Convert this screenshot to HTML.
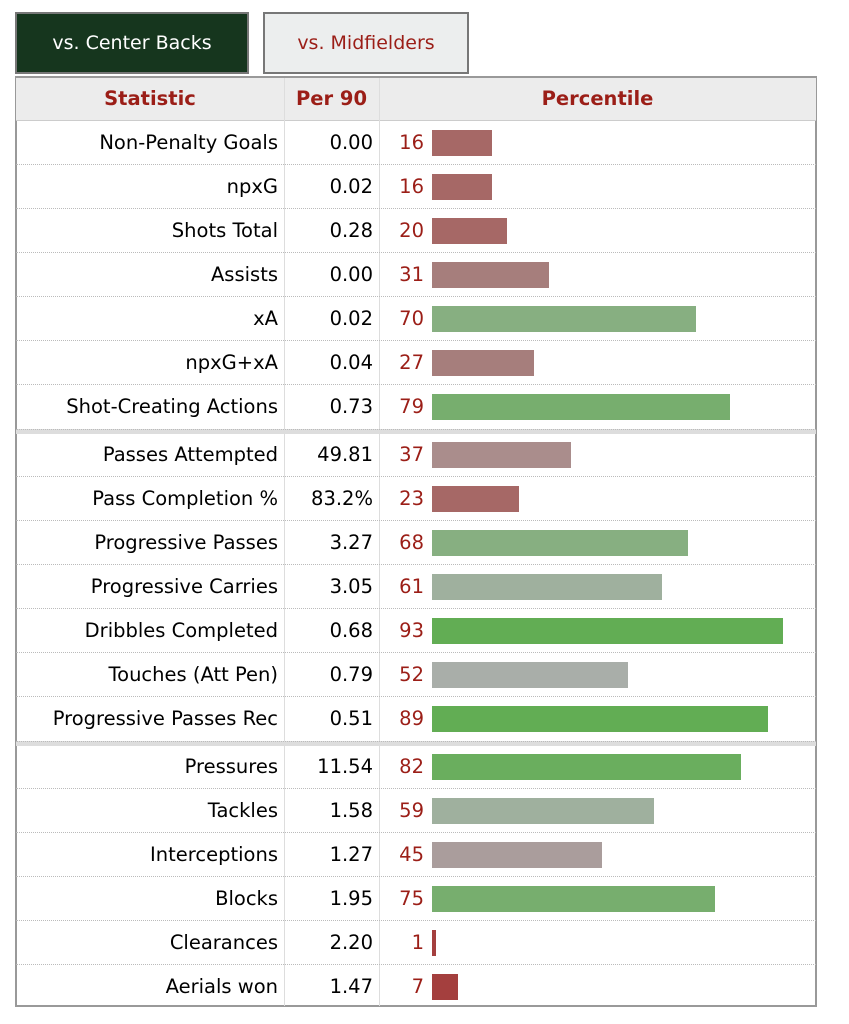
<!DOCTYPE html>
<html><head><meta charset="utf-8"><style>
body{margin:0;background:#fff;width:849px;height:1024px;position:relative;font-family:"DejaVu Sans",Verdana,sans-serif;overflow:hidden}
.tab{position:absolute;top:12px;height:62px;box-sizing:border-box;border:2px solid #777;font-size:19px;display:flex;align-items:center;justify-content:center}
.cell{position:absolute;box-sizing:border-box;font-size:19.5px;white-space:nowrap;line-height:44px}
.vline{position:absolute;width:1px;background:#ddd}
.hdot{position:absolute;left:16px;width:800px;border-top:1px dotted #bbb}
.bar{position:absolute;height:26px;box-sizing:border-box}
</style></head><body>
<div class="tab" style="left:15px;width:234px;background:#16361e;color:#fff">vs. Center Backs</div>
<div class="tab" style="left:263px;width:206px;background:#eceeee;color:#9b1e17">vs. Midfielders</div>
<div id="tbl" style="position:absolute;left:15px;top:76px;width:802px;height:931px;box-sizing:border-box;border:2px solid #999;border-top:none"></div>
<div style="position:absolute;left:16px;top:76px;width:800px;height:45px;background:#ececec;border-top:2px solid #999;border-bottom:1px solid #ccc;box-sizing:border-box"></div>
<div class="cell" style="left:16px;width:268px;top:77px;text-align:center;color:#9b1e17;font-weight:bold">Statistic</div>
<div class="cell" style="left:284px;width:95px;top:77px;text-align:center;color:#9b1e17;font-weight:bold">Per 90</div>
<div class="cell" style="left:379px;width:437px;top:77px;text-align:center;color:#9b1e17;font-weight:bold">Percentile</div>
<div class="vline" style="left:284px;top:78px;height:928px"></div>
<div class="vline" style="left:379px;top:78px;height:928px"></div>
<script>
const stats=["Non-Penalty Goals","npxG","Shots Total","Assists","xA","npxG+xA","Shot-Creating Actions","Passes Attempted","Pass Completion %","Progressive Passes","Progressive Carries","Dribbles Completed","Touches (Att Pen)","Progressive Passes Rec","Pressures","Tackles","Interceptions","Blocks","Clearances","Aerials won"];
const per90=["0.00","0.02","0.28","0.00","0.02","0.04","0.73","49.81","83.2%","3.27","3.05","0.68","0.79","0.51","11.54","1.58","1.27","1.95","2.20","1.47"];
const percentiles=[16,16,20,31,70,27,79,37,23,68,61,93,52,89,82,59,45,75,1,7];
function color(p){
 if(p<10)return"#a43f3e";if(p<25)return"#a66866";if(p<35)return"#a67e7c";if(p<42)return"#aa8d8c";if(p<50)return"#aa9d9c";
 if(p<56)return"#a9aea9";if(p<65)return"#9fb09e";if(p<73)return"#87af81";if(p<80)return"#77ae6e";if(p<86)return"#6aae5e";return"#62ad54";}
function xScale(p){return p*3.77;}
function rowTop(i){return 121+i*44+(i>=7?4:0)+(i>=14?4:0);}
const B=document.body;
for(let i=0;i<stats.length;i++){
 const t=rowTop(i);
 const a=document.createElement('div');a.className='cell';
 
 
 a.style.cssText=`left:16px;width:262px;top:${t}px;text-align:right`;a.textContent=stats[i];B.appendChild(a);
 const b=document.createElement('div');b.className='cell';
 
 
 b.style.cssText=`left:284px;width:89px;top:${t}px;text-align:right`;b.textContent=per90[i];B.appendChild(b);
 const c=document.createElement('div');c.className='cell';
 
 
 c.style.cssText=`left:379px;width:45px;top:${t}px;text-align:right;color:#9b1e17`;c.textContent=percentiles[i];B.appendChild(c);
 const r=document.createElement('div');r.className='bar';
 
 
 r.style.cssText=`left:432px;top:${t+9}px;width:${Math.max(3,xScale(percentiles[i]))}px;background:${color(percentiles[i])}`;B.appendChild(r);
 if(i==6||i==13){const s=document.createElement('div');
  
  
  s.style.cssText=`position:absolute;left:16px;width:800px;top:${t+44}px;height:4px;background:#ddd;border-top:1px dotted #bbb`;B.appendChild(s);}
 else if(i<stats.length-1){const d=document.createElement('div');d.className='hdot';
  
  
  d.style.top=(t+43)+'px';B.appendChild(d);}
}
</script>
</body></html>
